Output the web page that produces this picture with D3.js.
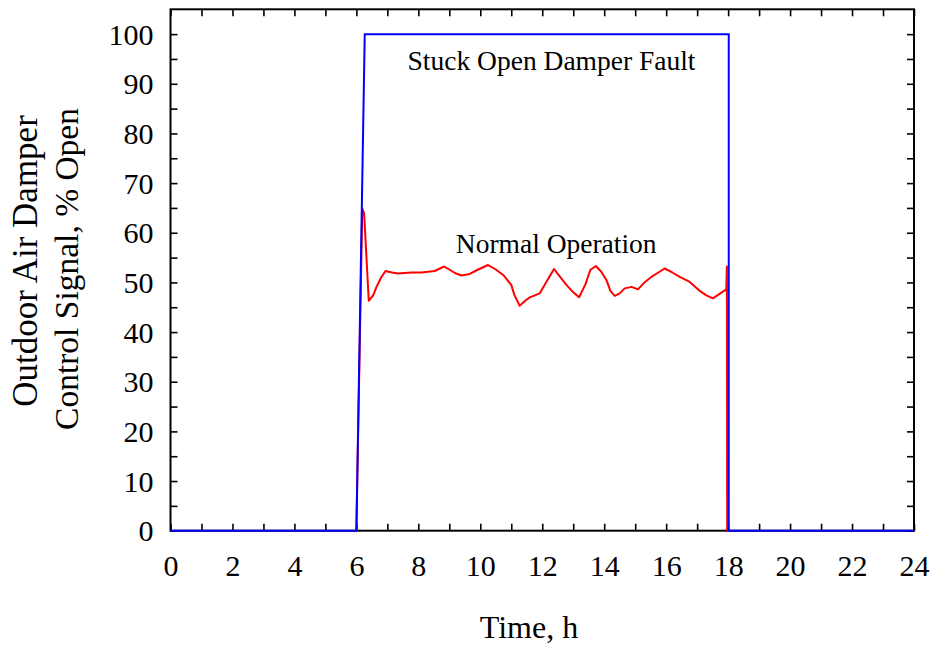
<!DOCTYPE html>
<html>
<head>
<meta charset="utf-8">
<script src="https://cdn.jsdelivr.net/npm/d3@7/dist/d3.min.js"></script>
<style>
  html, body { margin: 0; padding: 0; background: #fff; }
  svg { display: block; }
  text { font-family: "Liberation Serif", "Times New Roman", serif; fill: #000; }
</style>
</head>
<body>
<svg id="chart" width="935" height="647"></svg>
<script>
// Damper control signal over one day (hours, % open)
const faultTime   = [0, 6.0, 6.27, 18.02, 18.02, 24];
const faultSignal = [0, 0, 100, 100, 0, 0];

const normalTime = [
  6.00, 6.19, 6.25, 6.40, 6.55, 6.65, 6.80, 6.94, 7.15, 7.35, 7.78, 8.10, 8.53, 8.83,
  9.00, 9.18, 9.39, 9.66, 9.90, 10.25, 10.50, 10.74, 11.00, 11.10, 11.27, 11.45,
  11.60, 11.92, 12.15, 12.38, 12.55, 12.78, 13.00, 13.19, 13.40, 13.55, 13.73,
  13.90, 14.07, 14.20, 14.34, 14.50, 14.66, 14.88, 15.09, 15.30, 15.52, 15.75,
  15.95, 16.20, 16.44, 16.76, 17.08, 17.30, 17.51, 17.70, 17.94, 17.96, 17.97
];
const normalSignal = [
  0, 64.9, 63.9, 46.3, 47.5, 49.1, 51.0, 52.3, 52.0, 51.8, 52.0, 52.0, 52.3, 53.2,
  52.6, 51.9, 51.4, 51.7, 52.5, 53.5, 52.6, 51.5, 49.5, 47.5, 45.3, 46.3,
  47.0, 47.8, 50.3, 52.7, 51.3, 49.5, 48.0, 47.0, 49.7, 52.5, 53.3,
  52.2, 50.5, 48.3, 47.3, 47.8, 48.8, 49.1, 48.6, 50.0, 51.1, 52.0,
  52.8, 52.0, 51.1, 50.1, 48.3, 47.4, 46.8, 47.6, 48.6, 53.2, 0
];

const xTickLabels = [0, 2, 4, 6, 8, 10, 12, 14, 16, 18, 20, 22, 24];
const xMinorTicks = [1, 3, 5, 7, 9, 11, 13, 15, 17, 19, 21, 23];
const yTickLabels = [0, 10, 20, 30, 40, 50, 60, 70, 80, 90, 100];
const yMinorTicks = [5, 15, 25, 35, 45, 55, 65, 75, 85, 95];

const annotations = [
  { text: "Stuck Open Damper Fault", t: 12.3, v: 92.7 },
  { text: "Normal Operation", t: 12.45, v: 56.0 }
];

const xLabel = "Time, h";
const yLabelLines = ["Outdoor Air Damper", "Control Signal, % Open"];

const plotLeft = 170.5, plotRight = 914, plotTop = 9.3, plotBottom = 530.7;

const svg = d3.select("#chart");

const x = d3.scaleLinear().domain([0, 24]).range([plotLeft, plotRight]);
const y = d3.scaleLinear().domain([0, 105]).range([plotBottom, plotTop]);

const tickLen = 7;

function styleAxis(g) {
  g.select(".domain").remove();
  g.selectAll(".tick line").attr("stroke", "#000").attr("stroke-width", 1.6);
}

// bottom axis: labelled majors plus unlabelled minors
svg.append("g")
  .attr("transform", `translate(0,${plotBottom})`)
  .call(d3.axisBottom(x).tickValues(xTickLabels).tickSize(-tickLen).tickPadding(0).tickFormat(d3.format("d")))
  .call(styleAxis)
  .call(g => g.selectAll(".tick text")
    .attr("font-size", 30).attr("y", 45).attr("dy", 0)
    .style("font-family", "Liberation Serif"));
svg.append("g")
  .attr("transform", `translate(0,${plotBottom})`)
  .call(d3.axisBottom(x).tickValues(xMinorTicks).tickSize(-tickLen).tickFormat(""))
  .call(styleAxis);

// top mirror ticks
svg.append("g")
  .attr("transform", `translate(0,${plotTop})`)
  .call(d3.axisTop(x).tickValues(xTickLabels.concat(xMinorTicks)).tickSize(-tickLen).tickFormat(""))
  .call(styleAxis);

// left axis
svg.append("g")
  .attr("transform", `translate(${plotLeft},0)`)
  .call(d3.axisLeft(y).tickValues(yTickLabels).tickSize(-tickLen).tickPadding(17).tickFormat(d3.format("d")))
  .call(styleAxis)
  .call(g => g.selectAll(".tick text")
    .attr("font-size", 30).attr("dy", "0.34em")
    .style("font-family", "Liberation Serif"));
svg.append("g")
  .attr("transform", `translate(${plotLeft},0)`)
  .call(d3.axisLeft(y).tickValues(yMinorTicks).tickSize(-tickLen).tickFormat(""))
  .call(styleAxis);

// right mirror ticks
svg.append("g")
  .attr("transform", `translate(${plotRight},0)`)
  .call(d3.axisRight(y).tickValues(yTickLabels.concat(yMinorTicks)).tickSize(-tickLen).tickFormat(""))
  .call(styleAxis);

// frame
svg.append("rect")
  .attr("x", plotLeft).attr("y", plotTop)
  .attr("width", plotRight - plotLeft).attr("height", plotBottom - plotTop)
  .attr("fill", "none").attr("stroke", "#000").attr("stroke-width", 2);

const line = d3.line().x(d => x(d[0])).y(d => y(d[1]));

svg.append("path")
  .datum(normalTime.map((t, i) => [t, normalSignal[i]]))
  .attr("d", line)
  .attr("fill", "none").attr("stroke", "#ff0000").attr("stroke-width", 2)
  .attr("stroke-linejoin", "round");

svg.append("path")
  .datum(faultTime.map((t, i) => [t, faultSignal[i]]))
  .attr("d", line)
  .attr("fill", "none").attr("stroke", "#0000ff").attr("stroke-width", 2);

// annotations
svg.selectAll("text.note")
  .data(annotations)
  .join("text")
  .attr("class", "note")
  .attr("x", d => x(d.t))
  .attr("y", d => y(d.v))
  .attr("text-anchor", "middle")
  .attr("font-size", 27.5)
  .text(d => d.text);

// axis titles
svg.append("text")
  .attr("x", 529).attr("y", 638)
  .attr("text-anchor", "middle")
  .attr("font-size", 32)
  .text(xLabel);

const yTitleStyle = [{ bx: 37, cy: 261, size: 35 }, { bx: 78, cy: 269, size: 33.5 }];
svg.selectAll("text.ytitle")
  .data(yLabelLines)
  .join("text")
  .attr("class", "ytitle")
  .attr("transform", (d, i) => `translate(${yTitleStyle[i].bx},${yTitleStyle[i].cy}) rotate(-90)`)
  .attr("text-anchor", "middle")
  .attr("font-size", (d, i) => yTitleStyle[i].size)
  .text(d => d);
</script>
</body>
</html>
